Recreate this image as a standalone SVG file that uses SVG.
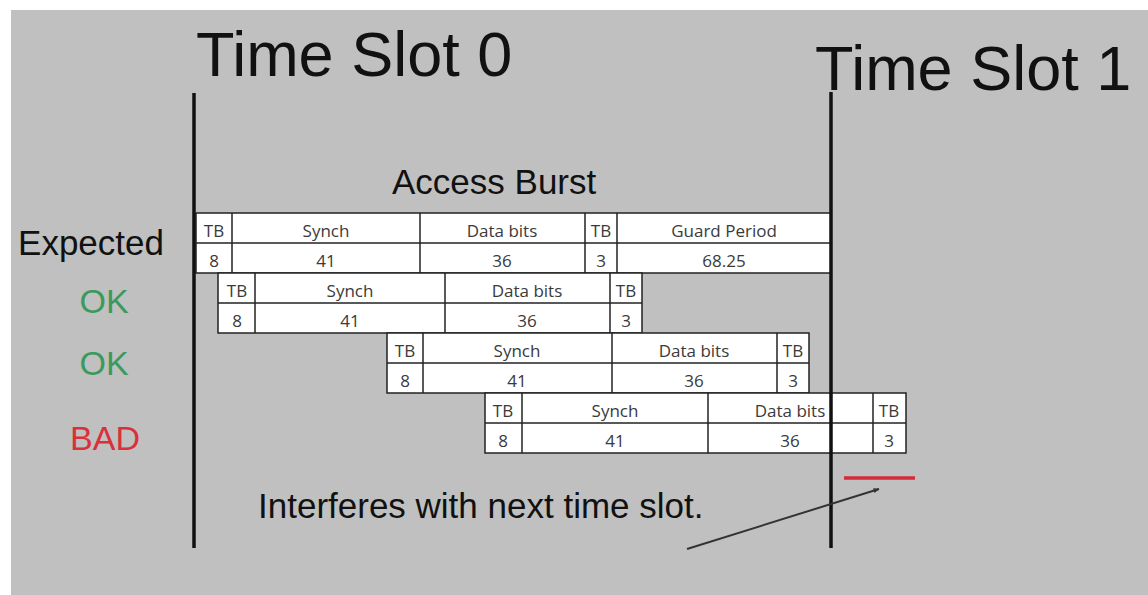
<svg xmlns="http://www.w3.org/2000/svg" width="1148" height="595" viewBox="0 0 1148 595">
  <style>
    .big { font-family: "Liberation Sans", Arial, sans-serif; fill: #111; }
    .cell { fill: #ffffff; stroke: #222; stroke-width: 1.5; }
    .ct { font-family: "Open Sans", "Liberation Sans", sans-serif; font-size: 17px; fill: #3a3a3a; text-anchor: middle; }
    .slot { stroke: #111; stroke-width: 3.5; }
    .ok { fill: #3a9a5c; }
    .bad { fill: #d9303a; }
  </style>
  <defs>
    <marker id="arrowHead" viewBox="0 0 10 10" refX="9" refY="5" markerWidth="6" markerHeight="6" orient="auto" markerUnits="userSpaceOnUse">
      <path d="M0,1 L10,5 L0,9 z" fill="#333"/>
    </marker>
  </defs>

  <!-- backdrop -->
  <rect x="0" y="0" width="1148" height="595" fill="#ffffff"/>
  <rect x="11" y="10" width="1137" height="585" fill="#c0c0c0"/>

  <!-- headings -->
  <g id="heading-slot0"><text class="big" x="196" y="76" font-size="63">Time Slot 0</text></g>
  <g id="heading-slot1"><text class="big" x="815" y="90" font-size="63">Time Slot 1</text></g>
  <g id="heading-burst"><text class="big" x="392" y="194" font-size="35">Access Burst</text></g>

  <!-- row labels -->
  <g id="labels" font-family="Liberation Sans, Arial, sans-serif" text-anchor="middle">
    <text x="91" y="255" font-size="35" fill="#111">Expected</text>
    <text class="ok" x="104" y="313" font-size="34">OK</text>
    <text class="ok" x="104" y="375" font-size="34">OK</text>
    <text class="bad" x="105" y="450" font-size="34">BAD</text>
  </g>

  <!-- burst row: expected -->
  <g id="burst-expected">
    <rect class="cell" x="196" y="213" width="635" height="60"/>
    <line x1="196" y1="243" x2="831" y2="243" stroke="#222" stroke-width="1.5"/>
    <line x1="232" y1="213" x2="232" y2="273" stroke="#222" stroke-width="1.5"/>
    <line x1="420" y1="213" x2="420" y2="273" stroke="#222" stroke-width="1.5"/>
    <line x1="585" y1="213" x2="585" y2="273" stroke="#222" stroke-width="1.5"/>
    <line x1="617" y1="213" x2="617" y2="273" stroke="#222" stroke-width="1.5"/>
    <text class="ct" x="214" y="237">TB</text>
    <text class="ct" x="326" y="237">Synch</text>
    <text class="ct" x="502" y="237">Data bits</text>
    <text class="ct" x="601" y="237">TB</text>
    <text class="ct" x="724" y="237">Guard Period</text>
    <text class="ct" x="214" y="267">8</text>
    <text class="ct" x="326" y="267">41</text>
    <text class="ct" x="502" y="267">36</text>
    <text class="ct" x="601" y="267">3</text>
    <text class="ct" x="724" y="267">68.25</text>
  </g>

  <!-- burst row: delayed, OK -->
  <g id="burst-ok-1">
    <rect class="cell" x="218" y="273" width="424" height="60"/>
    <line x1="218" y1="303" x2="642" y2="303" stroke="#222" stroke-width="1.5"/>
    <line x1="255" y1="273" x2="255" y2="333" stroke="#222" stroke-width="1.5"/>
    <line x1="445" y1="273" x2="445" y2="333" stroke="#222" stroke-width="1.5"/>
    <line x1="610" y1="273" x2="610" y2="333" stroke="#222" stroke-width="1.5"/>
    <text class="ct" x="237" y="297">TB</text>
    <text class="ct" x="350" y="297">Synch</text>
    <text class="ct" x="527" y="297">Data bits</text>
    <text class="ct" x="626" y="297">TB</text>
    <text class="ct" x="237" y="327">8</text>
    <text class="ct" x="350" y="327">41</text>
    <text class="ct" x="527" y="327">36</text>
    <text class="ct" x="626" y="327">3</text>
  </g>

  <!-- burst row: more delay, still OK -->
  <g id="burst-ok-2">
    <rect class="cell" x="387" y="333" width="422" height="60"/>
    <line x1="387" y1="363" x2="809" y2="363" stroke="#222" stroke-width="1.5"/>
    <line x1="423" y1="333" x2="423" y2="393" stroke="#222" stroke-width="1.5"/>
    <line x1="612" y1="333" x2="612" y2="393" stroke="#222" stroke-width="1.5"/>
    <line x1="777" y1="333" x2="777" y2="393" stroke="#222" stroke-width="1.5"/>
    <text class="ct" x="405" y="357">TB</text>
    <text class="ct" x="517" y="357">Synch</text>
    <text class="ct" x="694" y="357">Data bits</text>
    <text class="ct" x="793" y="357">TB</text>
    <text class="ct" x="405" y="387">8</text>
    <text class="ct" x="517" y="387">41</text>
    <text class="ct" x="694" y="387">36</text>
    <text class="ct" x="793" y="387">3</text>
  </g>

  <!-- burst row: too much delay, BAD -->
  <g id="burst-bad">
    <rect class="cell" x="485" y="393" width="421" height="60"/>
    <line x1="485" y1="423" x2="906" y2="423" stroke="#222" stroke-width="1.5"/>
    <line x1="522" y1="393" x2="522" y2="453" stroke="#222" stroke-width="1.5"/>
    <line x1="708" y1="393" x2="708" y2="453" stroke="#222" stroke-width="1.5"/>
    <line x1="873" y1="393" x2="873" y2="453" stroke="#222" stroke-width="1.5"/>
    <text class="ct" x="503" y="417">TB</text>
    <text class="ct" x="615" y="417">Synch</text>
    <text class="ct" x="790" y="417">Data bits</text>
    <text class="ct" x="889" y="417">TB</text>
    <text class="ct" x="503" y="447">8</text>
    <text class="ct" x="615" y="447">41</text>
    <text class="ct" x="790" y="447">36</text>
    <text class="ct" x="889" y="447">3</text>
  </g>

  <!-- slot boundaries -->
  <g id="boundaries">
    <line class="slot" x1="194" y1="93" x2="194" y2="548"/>
    <line class="slot" x1="831" y1="92" x2="831" y2="548"/>
  </g>

  <!-- overlap marker and note -->
  <g id="overlap-marker">
    <line x1="844" y1="478" x2="915" y2="478" stroke="#d42a3a" stroke-width="3.5"/>
  </g>
  <g id="note">
    <text class="big" x="258" y="518" font-size="35" fill="#222">Interferes with next time slot.</text>
  </g>

  <g id="connectors">
    <line x1="687" y1="549" x2="879" y2="489" stroke="#333" stroke-width="2" marker-end="url(#arrowHead)"/>
  </g>
</svg>
